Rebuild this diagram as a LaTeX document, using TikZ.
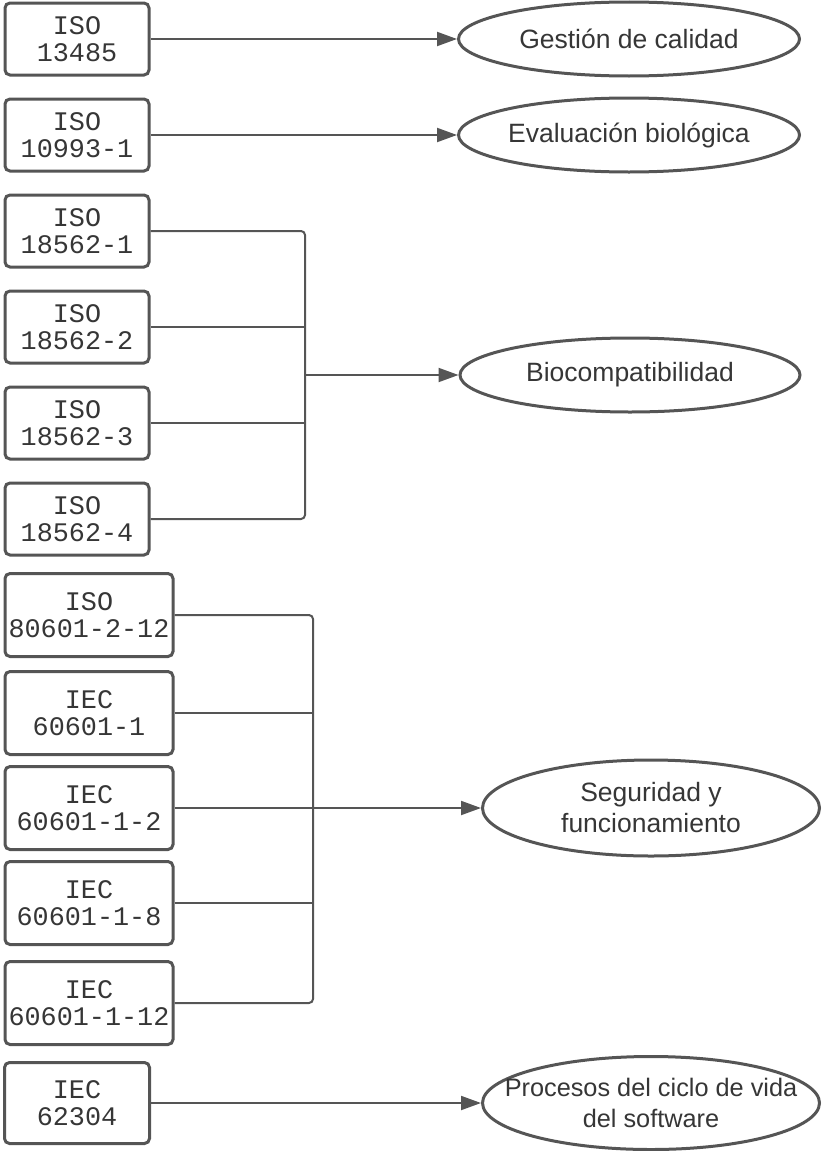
\documentclass[tikz,border=0pt]{standalone}
\usepackage{fontspec}
\setmainfont{Liberation Sans}
\setmonofont{Liberation Mono}
\usetikzlibrary{shapes.geometric}
\usetikzlibrary{arrows.meta}
\definecolor{linegray}{HTML}{555555}
\definecolor{textgray}{HTML}{363636}

\begin{document}
\begin{tikzpicture}[x=1pt, y=-1pt,
					norma/.style={draw=linegray, line width=3pt, rounded corners=5pt, fill=white,
						minimum width=144pt, minimum height=72pt, inner sep=0pt, align=center,
						text=textgray, font=\ttfamily\fontsize{26.8}{27}\selectfont},
					normaancha/.style={norma, minimum width=168pt, minimum height=83pt},
					area/.style={ellipse, draw=linegray, line width=3pt, inner sep=0pt,
						minimum width=341pt, minimum height=74pt},
					areatexto/.style={align=center, inner sep=0pt, text=textgray,
						font=\fontsize{26.5}{31}\selectfont},
					flecha/.style={draw=linegray, line width=2pt, -{Triangle[length=20pt,width=14pt]}},
					linea/.style={draw=linegray, line width=2pt, rounded corners=4pt}]
\useasboundingbox (0,0) rectangle (824,1151);

\node[norma] (n1) at (77,39) {ISO\\13485};
\node[norma] (n2) at (77,135) {ISO\\10993-1};
\node[norma] (n3) at (77,231) {ISO\\18562-1};
\node[norma] (n4) at (77,327) {ISO\\18562-2};
\node[norma] (n5) at (77,423) {ISO\\18562-3};
\node[norma] (n6) at (77,519) {ISO\\18562-4};
\node[normaancha] (n7) at (89,615) {ISO\\80601-2-12};
\node[normaancha] (n8) at (89,713) {IEC\\60601-1};
\node[normaancha] (n9) at (89,808) {IEC\\60601-1-2};
\node[normaancha] (n10) at (89,903) {IEC\\60601-1-8};
\node[normaancha] (n11) at (89,1003) {IEC\\60601-1-12};
\node[norma, minimum width=145pt, minimum height=81pt] (n12) at (77,1103) {IEC\\62304};

\node[area, label={[areatexto]center:Gestión de calidad}] (e1) at (629,39) {};
\node[area, label={[areatexto]center:Evaluación biológica}] (e2) at (629,135) {};
\node[area, minimum width=340pt, label={[areatexto]center:Biocompatibilidad}] (e3) at (630,375) {};
\node[area, minimum width=337pt, minimum height=96pt,
	label={[areatexto]center:{Seguridad y\\funcionamiento}}] (e4) at (651,808) {};
\node[area, minimum width=337pt, minimum height=93pt,
	label={[areatexto, font=\fontsize{25.3}{31}\selectfont]center:{Procesos del ciclo de vida\\del software}}] (e5) at (651,1103) {};

\coordinate (bus1) at (305,375);
\coordinate (bus2) at (313,808);

\draw[flecha] (n1.east) -- (e1.west);
\draw[flecha] (n2.east) -- (e2.west);

\draw[linea] (n3.east) -| (bus1) |- (n6.east);
\draw[linea] (n4.east) -- (n4.east -| bus1);
\draw[linea] (n5.east) -- (n5.east -| bus1);
\draw[flecha] (bus1) -- (e3.west);

\draw[linea] (n7.east) -| (bus2) |- (n11.east);
\draw[linea] (n8.east) -- (n8.east -| bus2);
\draw[linea] (n10.east) -- (n10.east -| bus2);
\draw[flecha] (n9.east) -- (e4.west);

\draw[flecha] (n12.east) -- (e5.west);
\end{tikzpicture}
\end{document}
